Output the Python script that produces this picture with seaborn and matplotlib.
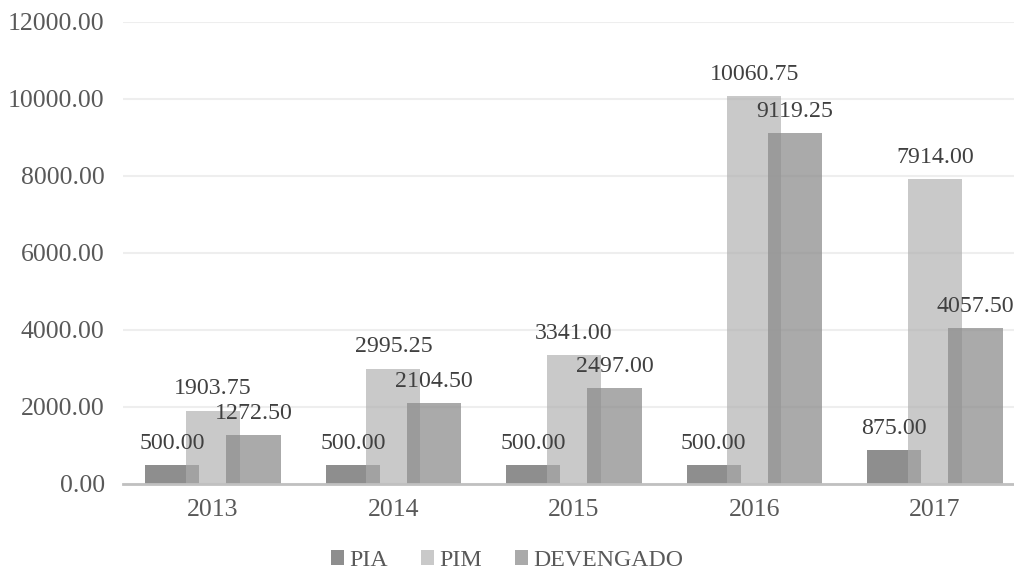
import matplotlib
matplotlib.use("Agg")
import matplotlib.pyplot as plt
import seaborn as sns
import pandas as pd
from matplotlib.ticker import FormatStrFormatter

# data
years = ["2013", "2014", "2015", "2016", "2017"]
pia = [500.00, 500.00, 500.00, 500.00, 875.00]
pim = [1903.75, 2995.25, 3341.00, 10060.75, 7914.00]
devengado = [1272.50, 2104.50, 2497.00, 9119.25, 4057.50]
series = ["PIA", "PIM", "DEVENGADO"]

df = pd.DataFrame({
    "year": years * 3,
    "serie": [s for s in series for _ in years],
    "valor": pia + pim + devengado,
})

sns.set_theme(style="white")
plt.rcParams["font.family"] = ["Liberation Serif", "DejaVu Serif"]

palette = {"PIA": "#5f5f5f", "PIM": "#adadad", "DEVENGADO": "#8c8c8c"}
alphas = {"PIA": 0.7, "PIM": 0.66, "DEVENGADO": 0.74}
fs_ticks = 18.5
fs_labels = 17.2

fig = plt.figure(figsize=(10.14, 5.72), dpi=100)
ax = fig.add_axes([0.121, 0.154, 0.89, 0.808])

sns.barplot(data=df, x="year", y="valor", hue="serie", hue_order=series,
            order=years, palette=palette, width=0.675, gap=-0.333,
            dodge=True, ax=ax, saturation=1, linewidth=0, errorbar=None)

# transparency per series + value labels
for container, name in zip(ax.containers, series):
    for bar in container:
        bar.set_alpha(alphas[name])
    ax.bar_label(container, labels=[f"{v:.2f}" for v in container.datavalues],
                 padding=8, fontsize=fs_labels, color="#404040")

ax.set_ylim(0, 12000)
ax.set_yticks(range(0, 12001, 2000))
ax.yaxis.set_major_formatter(FormatStrFormatter("%.2f"))
ax.set_xlim(-0.5, 4.5)
ax.grid(axis="y", color="#eeeeee", linewidth=1.5)
ax.set_axisbelow(True)
for side in ["top", "left", "right"]:
    ax.spines[side].set_visible(False)
ax.spines["bottom"].set_color("#c0c0c0")
ax.spines["bottom"].set_linewidth(2)
ax.tick_params(axis="both", length=0, labelsize=fs_ticks, labelcolor="#595959")
ax.tick_params(axis="y", pad=13)
ax.tick_params(axis="x", pad=11)
ax.set_xlabel("")
ax.set_ylabel("")

handles, labels = ax.get_legend_handles_labels()
for h, name in zip(handles, labels):
    h.set_alpha(alphas[name])
ax.legend(handles, labels, loc="center", bbox_to_anchor=(0.5 * 1014 / 902 - 123 / 902, -0.166),
          ncol=3, frameon=False, fontsize=fs_labels, handlelength=0.55, handleheight=0.55,
          handletextpad=0.2, columnspacing=1.4, labelcolor="#595959",
          borderpad=0.2)

fig.savefig("out.png", dpi=100)
